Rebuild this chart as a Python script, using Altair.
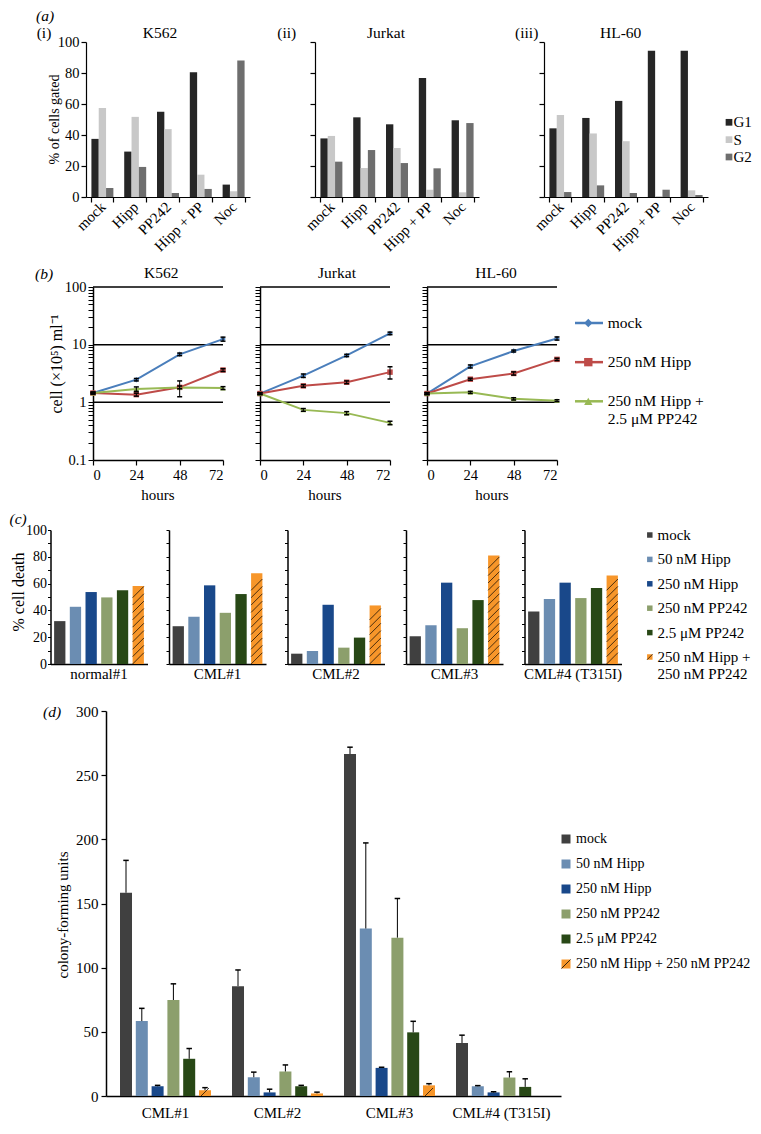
import altair as alt
import pandas as pd

FONT = "Liberation Serif"
SLASH = "M-1,1L1,-1"
HLINE = "M-1,0L1,0"

# ---------------- (a) cell-cycle distribution ----------------
a_treatments = ["mock", "Hipp", "PP242", "Hipp + PP", "Noc"]
a_phases = ["G1", "S", "G2"]
a_colors = ["#262626", "#c8c8c8", "#6e6e6e"]
k562_G1 = [37.5, 29.3, 55.0, 80.5, 8.0]
k562_S = [57.5, 51.7, 43.8, 14.4, 3.7]
k562_G2 = [5.8, 19.4, 2.6, 5.2, 88.0]
jurkat_G1 = [37.8, 51.4, 46.9, 76.8, 49.5]
jurkat_S = [39.4, 18.7, 31.6, 4.7, 3.0]
jurkat_G2 = [22.8, 30.3, 21.9, 18.5, 47.7]
hl60_G1 = [44.3, 51.0, 62.0, 94.4, 94.4]
hl60_S = [52.9, 41.0, 36.0, 0.6, 4.3]
hl60_G2 = [3.2, 7.5, 2.6, 4.7, 1.3]

# ---------------- (b) growth curves ----------------
b_times = [0, 24, 48, 72]
b_series = ["mock", "250 nM Hipp", "250 nM Hipp + 2.5 μM PP242"]
b_legend_lines = ["mock", "250 nM Hipp", "250 nM Hipp +"]
b_legend_extra = ["2.5 μM PP242"]
b_colors = ["#4a7ebb", "#be4b48", "#98b954"]
b_shapes = ["diamond", "square", "triangle-up"]
b_grid = [1, 10, 100]
b_yticks = [0.1, 0.2, 0.3, 0.4, 0.5, 0.6, 0.7, 0.8, 0.9,
            1, 2, 3, 4, 5, 6, 7, 8, 9,
            10, 20, 30, 40, 50, 60, 70, 80, 90, 100]
k562_mock = [1.45, 2.47, 6.8, 12.5]
k562_mock_err = [0.05, 0.12, 0.35, 1.0]
k562_hipp = [1.45, 1.36, 1.82, 3.63]
k562_hipp_err = [0.05, 0.08, 0.1, 0.2]
k562_combo = [1.45, 1.7, 1.8, 1.77]
k562_combo_err = [0.05, 0.15, 0.55, 0.1]
jurkat_mock = [1.42, 2.9, 6.5, 15.7]
jurkat_mock_err = [0.05, 0.2, 0.3, 0.8]
jurkat_hipp = [1.42, 1.93, 2.23, 3.34]
jurkat_hipp_err = [0.05, 0.1, 0.12, 0.8]
jurkat_combo = [1.42, 0.74, 0.65, 0.44]
jurkat_combo_err = [0.05, 0.04, 0.04, 0.03]
hl60_mock = [1.42, 4.2, 7.76, 12.8]
hl60_mock_err = [0.05, 0.25, 0.3, 0.8]
hl60_hipp = [1.42, 2.52, 3.17, 5.56]
hl60_hipp_err = [0.05, 0.1, 0.2, 0.25]
hl60_combo = [1.42, 1.49, 1.15, 1.07]
hl60_combo_err = [0.05, 0.06, 0.05, 0.04]

# ---------------- (c) cell death ----------------
c_treatments = ["mock", "50 nM Hipp", "250 nM Hipp", "250 nM PP242",
                "2.5 μM PP242", "250 nM Hipp + 250 nM PP242"]
c_legend_lines = ["mock", "50 nM Hipp", "250 nM Hipp", "250 nM PP242",
                  "2.5 μM PP242", "250 nM Hipp +"]
c_legend_extra = ["250 nM PP242"]
c_colors = ["#404040", "#6b8db2", "#19488a", "#8c9f6c", "#284816", "#f7962a"]
c_patients = ["normal#1", "CML#1", "CML#2", "CML#3", "CML#4 (T315I)"]
c_normal1 = [32.0, 42.7, 53.7, 49.7, 55.0, 58.2]
c_cml1 = [28.2, 35.2, 58.7, 38.2, 52.2, 67.7]
c_cml2 = [7.7, 9.7, 44.2, 12.2, 19.7, 43.7]
c_cml3 = [20.7, 29.0, 60.7, 26.7, 47.7, 80.9]
c_cml4 = [39.2, 48.5, 60.7, 49.2, 56.7, 66.0]

# ---------------- (d) colony formation ----------------
d_patients = ["CML#1", "CML#2", "CML#3", "CML#4 (T315I)"]
d_cml1 = [158.4, 58.4, 7.6, 74.8, 29.0, 4.5]
d_cml1_err = [25.2, 9.9, 0.7, 12.6, 8.0, 2.0]
d_cml2 = [85.6, 14.6, 2.8, 19.1, 7.6, 2.0]
d_cml2_err = [12.6, 4.0, 2.5, 5.1, 0.7, 1.0]
d_cml3 = [266.5, 130.5, 21.9, 123.4, 49.6, 8.3]
d_cml3_err = [5.3, 66.7, 0.5, 30.5, 8.6, 1.3]
d_cml4 = [41.3, 7.6, 2.8, 14.4, 7.1, 0.0]
d_cml4_err = [6.1, 0.5, 0.5, 4.5, 6.3, 0.0]


# ---------------- helpers ----------------
def txt(text, x, y, size=15, align="center", angle=0, italic=False):
    return alt.Chart(pd.DataFrame({"t": [text]})).mark_text(
        font=FONT, fontSize=size, align=align, baseline="middle", angle=angle,
        fontStyle="italic" if italic else "normal", color="black"
    ).encode(x=alt.value(x), y=alt.value(y), text="t:N")


def anchor(y1, y2):
    # invisible vertical rule fixing the vertical extent of a row
    return alt.Chart(pd.DataFrame({"a": [0]})).mark_rule(
        opacity=0, strokeOpacity=0, strokeWidth=0.1
    ).encode(x=alt.value(1), x2=alt.value(1), y=alt.value(y1), y2=alt.value(y2))


def spacer(w):
    return alt.Chart(pd.DataFrame({"a": [0]})).mark_rule(
        opacity=0, strokeOpacity=0, strokeWidth=0.1
    ).encode(x=alt.value(0.5), x2=alt.value(1), y=alt.value(0.5)).properties(width=w, height=1)


def hatch_centers(v, half, step, tol):
    out = []
    c = half
    while c + half <= v + tol:
        out.append(round(c, 2))
        c += step
    return out


# ---------------- (a) ----------------
WA, HA = 164, 155


def panel_a(cell, g1, s, g2, roman, roman_x, title_dx, first=False, legend=False):
    df = pd.DataFrame({
        "treatment": a_treatments * 3,
        "phase": [p for p in a_phases for _ in a_treatments],
        "value": g1 + s + g2,
    })
    color = alt.Color("phase:N", scale=alt.Scale(domain=a_phases, range=a_colors), legend=None)
    bars = alt.Chart(df).mark_bar().encode(
        x=alt.X("treatment:N", title=None,
                scale=alt.Scale(domain=a_treatments, paddingInner=0.33, paddingOuter=0.165),
                axis=alt.Axis(labelAngle=-45, labelAlign="right", labelBaseline="middle",
                              labelFontSize=15, labelPadding=2, tickBand="extent", tickSize=5,
                              domainWidth=1.2, tickWidth=1.2)),
        xOffset=alt.XOffset("phase:N", scale=alt.Scale(domain=a_phases, paddingInner=0, paddingOuter=0)),
        y=alt.Y("value:Q", title=None, scale=alt.Scale(domain=[0, 100], nice=False),
                axis=alt.Axis(values=[0, 20, 40, 60, 80, 100], labels=first, labelFontSize=14.5,
                              tickSize=5, labelPadding=2, domainWidth=1.2, tickWidth=1.2)),
        color=color,
    )
    layers = [bars, txt(cell, WA / 2 + title_dx, -9, 15.5), txt(roman, roman_x, -9, 15.5)]
    if first:
        layers += [txt("(a)", -41, -26, 15.5, italic=True),
                   txt("% of cells gated", -31.5, HA / 2, 14, angle=270),
                   anchor(-34, 220)]
    ch = alt.layer(*layers)
    if legend:
        ldf = pd.DataFrame({"phase": a_phases, "row": [0, 1, 2]})
        ly = alt.Y("row:Q", scale=alt.Scale(domain=[0, 2], range=[80.3, 115], nice=False, zero=False), axis=None)
        sq = alt.Chart(ldf).mark_point(shape="square", filled=True, size=45, opacity=1).encode(
            x=alt.value(185), y=ly, color=color)
        lt = alt.Chart(ldf).mark_text(font=FONT, fontSize=15, align="left", baseline="middle",
                                      color="black").encode(x=alt.value(189.5), y=ly, text="phase:N")
        ch = alt.layer(ch, alt.layer(sq, lt)).resolve_scale(y="independent")
    return ch.properties(width=WA, height=HA)


# ---------------- (b) ----------------
WB, HB = 130, 173
LOG_LABELS = ("datum.value == 0.1 ? '0.1' : datum.value == 1 ? '1' : "
              "datum.value == 10 ? '10' : datum.value == 100 ? '100' : ''")


def panel_b(cell, vals, errs, title_dx, first=False, legend=False):
    rows = []
    for name, vv, ee in zip(b_series, vals, errs):
        for t, v, e in zip(b_times, vv, ee):
            rows.append({"series": name, "time": t, "value": v, "lo": v - e, "hi": v + e})
    df = pd.DataFrame(rows)
    x = alt.X("time:Q", title=None, scale=alt.Scale(domain=[0, 72], nice=False, zero=False),
              axis=alt.Axis(values=b_times, labelFontSize=14.5, tickSize=5, labelPadding=3,
                            domainWidth=1.5, tickWidth=1.2))
    yscale = alt.Scale(type="log", domain=[0.1, 100], nice=False)
    yaxis = alt.Axis(values=b_yticks, labelExpr=LOG_LABELS, labels=first, labelFontSize=14.5,
                     tickSize=5, labelPadding=2, domainWidth=1.5, labelOverlap=False, tickWidth=1)

    def Y(f):
        return alt.Y(f, title=None, scale=yscale, axis=yaxis)

    color = alt.Color("series:N", scale=alt.Scale(domain=b_series, range=b_colors), legend=None)
    shape = alt.Shape("series:N", scale=alt.Scale(domain=b_series, range=b_shapes), legend=None)
    base = alt.Chart(df)
    grid = alt.Chart(pd.DataFrame({"g": b_grid})).mark_rule(color="black", strokeWidth=1.5).encode(y=Y("g:Q"))
    lines = base.mark_line(strokeWidth=2).encode(x=x, y=Y("value:Q"), color=color)
    pts = base.mark_point(filled=True, size=30, opacity=1).encode(x=x, y=Y("value:Q"), color=color, shape=shape)
    eb = base.mark_rule(color="black", strokeWidth=1).encode(x=x, y=Y("lo:Q"), y2="hi:Q")
    cap_lo = base.mark_point(shape=HLINE, size=25, filled=False, color="black", strokeWidth=1.5,
                             opacity=1).encode(x=x, y=Y("lo:Q"))
    cap_hi = base.mark_point(shape=HLINE, size=25, filled=False, color="black", strokeWidth=1.5,
                             opacity=1).encode(x=x, y=Y("hi:Q"))
    layers = [grid, lines, pts, eb, cap_lo, cap_hi,
              txt(cell, WB / 2 + title_dx, -13.7, 15.5),
              txt("hours", WB / 2, HB + 35, 15)]
    if first:
        layers += [txt("(b)", -49, -13, 15.5, italic=True),
                   txt("cell (×10⁵) ml⁻¹", -36, 77, 16, angle=270),
                   anchor(-24.7, 220.3)]
    ch = alt.layer(*layers)
    if legend:
        ldf = pd.DataFrame({"series": b_series, "row": [0, 1, 2], "label": b_legend_lines})
        edf = pd.DataFrame({"row": [2.45], "label": b_legend_extra})
        ly = alt.Y("row:Q", scale=alt.Scale(domain=[0, 2], range=[36, 114.3], nice=False, zero=False), axis=None)
        seg = alt.Chart(ldf).mark_rule(strokeWidth=2.5).encode(
            x=alt.value(148), x2=alt.value(176), y=ly, color=color)
        mk = alt.Chart(ldf).mark_point(filled=True, size=70, opacity=1).encode(
            x=alt.value(161.3), y=ly, color=color, shape=shape)
        lt = alt.Chart(ldf).mark_text(font=FONT, fontSize=15.5, align="left", baseline="middle",
                                      color="black").encode(x=alt.value(180.7), y=ly, text="label:N")
        lt2 = alt.Chart(edf).mark_text(font=FONT, fontSize=15.5, align="left", baseline="middle",
                                       color="black").encode(x=alt.value(180.7), y=ly, text="label:N")
        ch = alt.layer(ch, alt.layer(seg, mk, lt, lt2)).resolve_scale(y="independent")
    return ch.properties(width=WB, height=HB)


# ---------------- (c) ----------------
WC, HC = 97, 134
c_color = alt.Color("treatment:N", scale=alt.Scale(domain=c_treatments, range=c_colors), legend=None)


def panel_c(name, vals, first=False, legend=False):
    df = pd.DataFrame({"treatment": c_treatments, "value": vals})
    x = alt.X("treatment:N", title=None,
              scale=alt.Scale(domain=c_treatments, paddingInner=0.28, paddingOuter=0.23),
              axis=alt.Axis(labels=False, ticks=False, domainWidth=1.5))
    ys = alt.Scale(domain=[0, 100], nice=False)
    yaxis = alt.Axis(values=list(range(0, 101, 10)),
                     labelExpr="datum.value % 20 == 0 ? datum.label : ''",
                     labels=first, labelFontSize=14, tickSize=3, labelPadding=1,
                     domainWidth=1.5, tickWidth=1)
    bars = alt.Chart(df).mark_bar().encode(
        x=x, y=alt.Y("value:Q", title=None, scale=ys, axis=yaxis), color=c_color)
    hdf = pd.DataFrame({"treatment": c_treatments[-1],
                        "y": hatch_centers(vals[-1], 4.2, 5.5, 0.5)})
    hatch = alt.Chart(hdf).mark_point(shape=SLASH, size=128, filled=False, color="black",
                                      strokeWidth=0.7, opacity=1).encode(
        x=x, y=alt.Y("y:Q", title=None, scale=ys, axis=yaxis))
    layers = [bars, hatch, txt(name, WC / 2, HC + 10, 15)]
    if first:
        layers += [txt("(c)", -41, -11, 15.5, align="left", italic=True),
                   txt("% cell death", -32, 62, 16, angle=270),
                   anchor(-22, 171)]
    ch = alt.layer(*layers)
    if legend:
        ldf = pd.DataFrame({"treatment": c_treatments, "row": list(range(6)), "label": c_legend_lines})
        edf = pd.DataFrame({"row": [5.7], "label": c_legend_extra})
        ly = alt.Y("row:Q", scale=alt.Scale(domain=[0, 5], range=[5, 127], nice=False, zero=False), axis=None)
        sq = alt.Chart(ldf).mark_point(shape="square", filled=True, size=30, opacity=1).encode(
            x=alt.value(125.3), y=ly, color=c_color)
        hs = alt.Chart(ldf.iloc[[5]]).mark_point(shape=SLASH, size=30, filled=False, color="black",
                                                 strokeWidth=0.7, opacity=1).encode(x=alt.value(125.3), y=ly)
        lt = alt.Chart(ldf).mark_text(font=FONT, fontSize=15, align="left", baseline="middle",
                                      color="black").encode(x=alt.value(133), y=ly, text="label:N")
        lt2 = alt.Chart(edf).mark_text(font=FONT, fontSize=15, align="left", baseline="middle",
                                       color="black").encode(x=alt.value(133), y=ly, text="label:N")
        ch = alt.layer(ch, alt.layer(sq, hs, lt, lt2)).resolve_scale(y="independent")
    return ch.properties(width=WC, height=HC)


# ---------------- (d) ----------------
WD, HD = 455, 385


def panel_d():
    rows = []
    for p, vv, ee in zip(d_patients, [d_cml1, d_cml2, d_cml3, d_cml4],
                         [d_cml1_err, d_cml2_err, d_cml3_err, d_cml4_err]):
        for t, v, e in zip(c_treatments, vv, ee):
            rows.append({"patient": p, "treatment": t, "value": v, "err": e, "hi": v + e})
    df = pd.DataFrame(rows)
    edf = df[df["err"] > 0]
    hrows = []
    for p, vv in zip(d_patients, [d_cml1, d_cml2, d_cml3, d_cml4]):
        for c in hatch_centers(vv[-1], 3.1, 4.3, 2.0):
            hrows.append({"patient": p, "treatment": c_treatments[-1], "y": c})
    hdf = pd.DataFrame(hrows)
    x = alt.X("patient:N", title=None,
              scale=alt.Scale(domain=d_patients, paddingInner=0.1875, paddingOuter=0.125),
              axis=alt.Axis(ticks=False, labelAngle=0, labelFontSize=15, labelPadding=9, domainWidth=1.5))
    xo = alt.XOffset("treatment:N", scale=alt.Scale(domain=c_treatments, paddingInner=0.24, paddingOuter=0))
    ys = alt.Scale(domain=[0, 300], nice=False)
    yaxis = alt.Axis(values=[0, 50, 100, 150, 200, 250, 300], labelFontSize=15, tickSize=5,
                     labelPadding=3, domainWidth=1.5, tickWidth=1.2)

    def Y(f):
        return alt.Y(f, title=None, scale=ys, axis=yaxis)

    bars = alt.Chart(df).mark_bar().encode(x=x, xOffset=xo, y=Y("value:Q"), color=c_color)
    eb = alt.Chart(edf).mark_rule(color="black", strokeWidth=1).encode(x=x, xOffset=xo, y=Y("value:Q"), y2="hi:Q")
    cap = alt.Chart(edf).mark_point(shape=HLINE, size=30, filled=False, color="black", strokeWidth=1.5,
                                    opacity=1).encode(x=x, xOffset=xo, y=Y("hi:Q"))
    hatch = alt.Chart(hdf).mark_point(shape=SLASH, size=64, filled=False, color="black", strokeWidth=0.7,
                                      opacity=1).encode(x=x, xOffset=xo, y=Y("y:Q"))
    main = alt.layer(bars, eb, cap, hatch,
                     txt("(d)", -54, 1, 15.5, italic=True),
                     txt("colony-forming units", -43, 204, 15, angle=270),
                     anchor(-10, 413))
    ldf = pd.DataFrame({"treatment": c_treatments, "row": list(range(6)), "label": c_treatments})
    ly = alt.Y("row:Q", scale=alt.Scale(domain=[0, 5], range=[128, 253], nice=False, zero=False), axis=None)
    sq = alt.Chart(ldf).mark_point(shape="square", filled=True, size=81, opacity=1).encode(
        x=alt.value(460), y=ly, color=c_color)
    hs = alt.Chart(ldf.iloc[[5]]).mark_point(shape=SLASH, size=81, filled=False, color="black",
                                             strokeWidth=0.8, opacity=1).encode(x=alt.value(460), y=ly)
    lt = alt.Chart(ldf).mark_text(font=FONT, fontSize=14, align="left", baseline="middle",
                                  color="black").encode(x=alt.value(470), y=ly, text="label:N")
    ch = alt.layer(main, alt.layer(sq, hs, lt)).resolve_scale(y="independent")
    return ch.properties(width=WD, height=HD)


row_a = alt.hconcat(
    spacer(13),
    panel_a("K562", k562_G1, k562_S, k562_G2, "(i)", -42, -8, first=True),
    panel_a("Jurkat", jurkat_G1, jurkat_S, jurkat_G2, "(ii)", -28.3, -11),
    panel_a("HL-60", hl60_G1, hl60_S, hl60_G2, "(iii)", -17.3, -5.3, legend=True),
    spacing=65, bounds="flush",
)

row_b = alt.hconcat(
    spacer(48),
    panel_b("K562", [k562_mock, k562_hipp, k562_combo],
            [k562_mock_err, k562_hipp_err, k562_combo_err], 3.3, first=True),
    panel_b("Jurkat", [jurkat_mock, jurkat_hipp, jurkat_combo],
            [jurkat_mock_err, jurkat_hipp_err, jurkat_combo_err], 12),
    panel_b("HL-60", [hl60_mock, hl60_hipp, hl60_combo],
            [hl60_mock_err, hl60_hipp_err, hl60_combo_err], 4, legend=True),
    spacing=37, bounds="flush",
)

row_c = alt.hconcat(
    spacer(20.5),
    panel_c(c_patients[0], c_normal1, first=True),
    panel_c(c_patients[1], c_cml1),
    panel_c(c_patients[2], c_cml2),
    panel_c(c_patients[3], c_cml3),
    panel_c(c_patients[4], c_cml4, legend=True),
    spacing=21.5, bounds="flush",
)

row_d = alt.hconcat(spacer(98), panel_d(), spacing=0, bounds="flush")

chart = alt.vconcat(row_a, row_b, row_c, row_d, spacing=0).resolve_scale(
    color="independent", shape="independent", xOffset="independent"
).properties(
    padding=0
).configure_view(
    strokeWidth=0
).configure_axis(
    labelFont=FONT, titleFont=FONT, labelColor="black", domainColor="black",
    tickColor="black", grid=False
).configure_text(font=FONT, color="black")

chart.save("out.html", embed_options={"renderer": "svg", "actions": False})
